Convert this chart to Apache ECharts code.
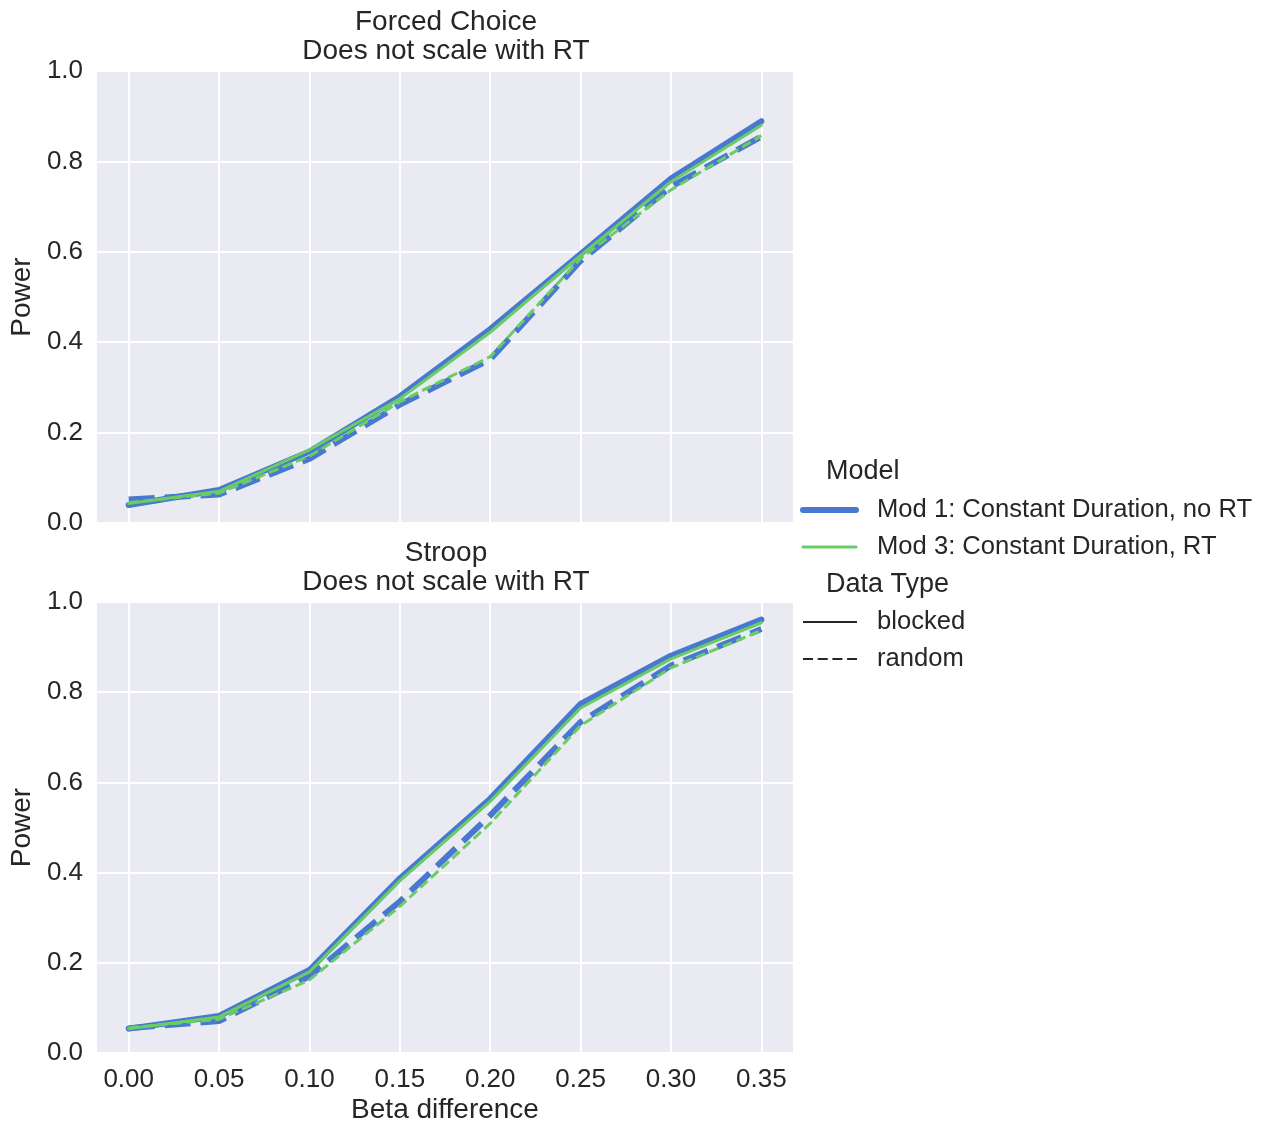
<!DOCTYPE html>
<html>
<head>
<meta charset="utf-8">
<script src="https://cdn.jsdelivr.net/npm/echarts@6/dist/echarts.min.js"></script>
<style>
html,body{margin:0;padding:0;background:#fff;}
#chart{width:1269px;height:1125px;}
</style>
</head>
<body>
<div id="chart"></div>
<script>
// ---- data ----
const betas = [0.00, 0.05, 0.10, 0.15, 0.20, 0.25, 0.30, 0.35];
const xTickValues = [0.00, 0.05, 0.10, 0.15, 0.20, 0.25, 0.30, 0.35];
const yTickValues = [0.0, 0.2, 0.4, 0.6, 0.8, 1.0];
const panelTitles = ["Forced Choice\nDoes not scale with RT", "Stroop\nDoes not scale with RT"];
const modelNames = ["Mod 1: Constant Duration, no RT", "Mod 3: Constant Duration, RT"];
const dataTypes = ["blocked", "random"];

// Forced Choice
const fcMod1Blocked = [0.040, 0.073, 0.158, 0.280, 0.429, 0.595, 0.762, 0.889];
const fcMod1Random  = [0.052, 0.063, 0.142, 0.262, 0.362, 0.580, 0.744, 0.855];
const fcMod3Blocked = [0.043, 0.070, 0.162, 0.275, 0.422, 0.592, 0.755, 0.880];
const fcMod3Random  = [0.045, 0.066, 0.148, 0.268, 0.368, 0.585, 0.737, 0.857];
// Stroop
const stMod1Blocked = [0.054, 0.082, 0.184, 0.387, 0.564, 0.774, 0.881, 0.961];
const stMod1Random  = [0.055, 0.071, 0.170, 0.336, 0.527, 0.734, 0.859, 0.940];
const stMod3Blocked = [0.054, 0.080, 0.180, 0.382, 0.558, 0.765, 0.874, 0.954];
const stMod3Random  = [0.056, 0.075, 0.162, 0.325, 0.509, 0.726, 0.854, 0.937];

// ---- styling ----
const FONT = '"Liberation Sans", Arial, sans-serif';
const TXT = '#262626';
const BLUE = '#4878d0';
const GREEN = '#6acc64';
const BG = '#eaeaf2';

const chart = echarts.init(document.getElementById('chart'), null, {renderer: 'canvas'});

function pairs(vals) { return betas.map((b, i) => [b, vals[i]]); }

const panels = [
  [fcMod1Blocked, fcMod1Random, fcMod3Blocked, fcMod3Random],
  [stMod1Blocked, stMod1Random, stMod3Blocked, stMod3Random]
];

const gridTops = [71, 602];
const grids = gridTops.map(t => ({
  left: 94, top: t, width: 699, height: 452,
  show: true, backgroundColor: BG, borderWidth: 0, containLabel: false
}));

const xAxes = [0, 1].map(i => ({
  type: 'value', gridIndex: i, min: -0.0175, max: 0.3675,
  axisLine: {show: false},
  axisTick: {show: false, customValues: xTickValues},
  axisLabel: {
    show: i === 1, customValues: xTickValues, margin: 14,
    color: TXT, fontFamily: FONT, fontSize: 26,
    formatter: v => v.toFixed(2)
  },
  splitLine: {show: true, lineStyle: {color: '#ffffff', width: 2}},
  name: i === 1 ? 'Beta difference' : '',
  nameLocation: 'middle', nameGap: 43,
  nameTextStyle: {color: TXT, fontFamily: FONT, fontSize: 28}
}));

const yAxes = [0, 1].map(i => ({
  type: 'value', gridIndex: i, min: 0, max: 1, interval: 0.2,
  axisLine: {show: false}, axisTick: {show: false},
  axisLabel: {
    margin: 14, color: TXT, fontFamily: FONT, fontSize: 26,
    formatter: v => v.toFixed(1)
  },
  splitLine: {show: true, lineStyle: {color: '#ffffff', width: 2}},
  name: 'Power', nameLocation: 'middle', nameGap: 58, nameRotate: 90,
  nameTextStyle: {color: TXT, fontFamily: FONT, fontSize: 28}
}));

const styles = [
  {color: BLUE, width: 6, type: 'solid', cap: 'round'},
  {color: BLUE, width: 6, type: [26, 10], cap: 'butt'},
  {color: GREEN, width: 3, type: 'solid', cap: 'round'},
  {color: GREEN, width: 3, type: [10, 4.5], cap: 'butt'}
];

const series = [];
panels.forEach((sets, p) => {
  sets.forEach((vals, k) => {
    const st = styles[k];
    series.push({
      type: 'line', xAxisIndex: p, yAxisIndex: p,
      data: pairs(vals), showSymbol: false, symbol: 'none', silent: true,
      animation: false,
      lineStyle: {color: st.color, width: st.width, type: st.type, cap: st.cap, join: 'round'}
    });
  });
});

const titles = panelTitles.map((t, i) => ({
  text: t, left: 446, top: i === 0 ? 7.5 : 538.5, textAlign: 'center', padding: 0,
  textStyle: {color: TXT, fontFamily: FONT, fontSize: 28, fontWeight: 'normal', lineHeight: 29}
}));

// legend drawn as graphic elements
const lg = [];
function lgText(txt, x, y, size) {
  lg.push({type: 'text', x: x, y: y,
    style: {text: txt, fill: TXT, font: size + 'px ' + FONT, verticalAlign: 'middle', align: 'left'}});
}
function lgLine(x1, x2, y, color, w, dash, cap) {
  lg.push({type: 'line', shape: {x1: x1, y1: y, x2: x2, y2: y},
    style: {stroke: color, lineWidth: w, lineDash: dash || null, lineCap: cap || 'butt'}});
}
lgText('Model', 826, 472, 27);
lgLine(803, 856, 510, BLUE, 6, null, 'round');
lgText(modelNames[0], 877, 510, 25.6);
lgLine(803, 856, 547, GREEN, 3, null, 'round');
lgText(modelNames[1], 877, 547, 25.6);
lgText('Data Type', 826, 585, 27);
lgLine(803, 857, 622, TXT, 2, null, 'butt');
lgText(dataTypes[0], 877, 622, 25.6);
lgLine(803, 857, 659, TXT, 2, [10, 4.7], 'butt');
lgText(dataTypes[1], 877, 659, 25.6);

chart.setOption({
  animation: false,
  backgroundColor: '#ffffff',
  title: titles,
  grid: grids,
  xAxis: xAxes,
  yAxis: yAxes,
  series: series,
  graphic: lg
});
</script>
</body>
</html>
